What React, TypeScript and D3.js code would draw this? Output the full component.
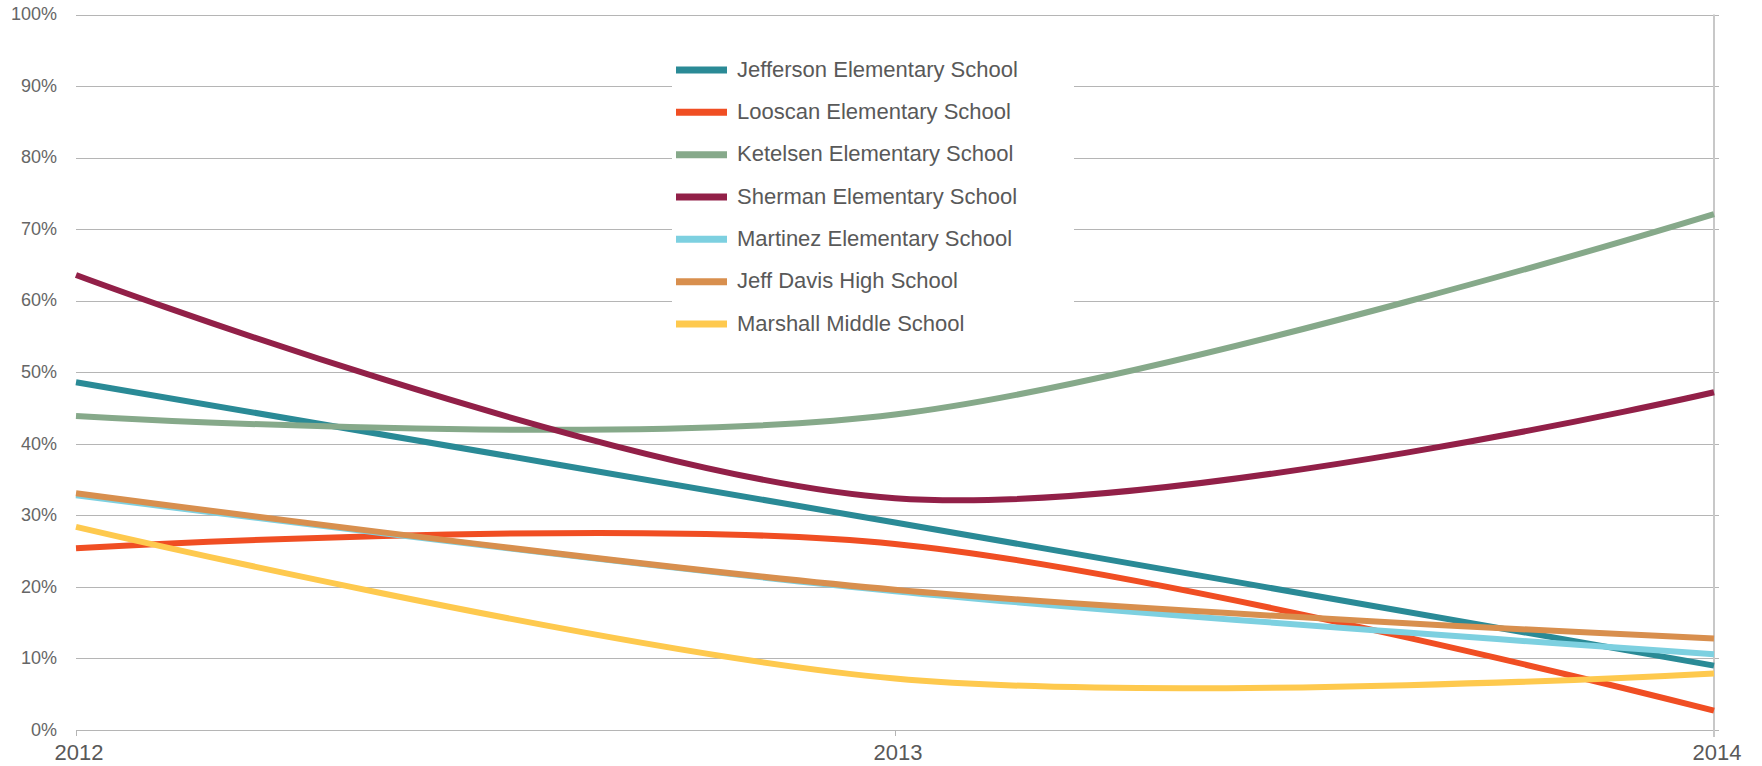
import React from "react";
import * as d3 from "d3";

const years = [2012, 2013, 2014];
const schools = [
  "Jefferson Elementary School",
  "Looscan Elementary School",
  "Ketelsen Elementary School",
  "Sherman Elementary School",
  "Martinez Elementary School",
  "Jeff Davis High School",
  "Marshall Middle School",
];
const colors = ["#2a8a96", "#f04e23", "#86a98a", "#922048", "#7dd0e0", "#d88f4e", "#fec94e"];
const jefferson = [48.6, 29.0, 9.0];
const looscan = [25.4, 26.0, 2.7];
const ketelsen = [43.9, 44.1, 72.1];
const sherman = [63.6, 32.4, 47.2];
const martinez = [32.8, 19.4, 10.6];
const jeffDavis = [33.1, 19.6, 12.8];
const marshall = [28.4, 7.2, 7.9];
const seriesValues = [jefferson, looscan, ketelsen, sherman, martinez, jeffDavis, marshall];
const yTicks = [0, 10, 20, 30, 40, 50, 60, 70, 80, 90, 100];

const W = 1762;
const H = 766;

export default function App() {
  const x = d3.scaleLinear().domain([2012, 2014]).range([76, 1714]);
  const y = d3.scaleLinear().domain([0, 100]).range([730, 14.5]);
  const line = d3
    .line<number>()
    .x((_, i) => x(years[i]))
    .y((d) => y(d))
    .curve(d3.curveCardinal.tension(0));

  const legendY = d3.scaleLinear().domain([0, 6]).range([70, 324]);

  return (
    <svg
      width={W}
      height={H}
      style={{ position: "absolute", left: 0, top: 0, background: "#fff" }}
      fontFamily="'Liberation Sans', Arial, sans-serif"
    >
      {yTicks.map((t) => (
        <g key={t}>
          <line x1={76} x2={1719} y1={Math.round(y(t)) + 0.5} y2={Math.round(y(t)) + 0.5} stroke="#b5b5b5" strokeWidth={1} />
          <text x={57} y={y(t) + 1} textAnchor="end" dominantBaseline="middle" fontSize={18} fill="#666">
            {t}%
          </text>
        </g>
      ))}
      <line x1={x(2014)} x2={x(2014)} y1={y(100)} y2={737} stroke="#c8c8c8" strokeWidth={2} />
      {years.slice(0, 2).map((yr) => (
        <line key={yr} x1={x(yr) + 0.5} x2={x(yr) + 0.5} y1={730} y2={736} stroke="#b5b5b5" strokeWidth={1} />
      ))}
      {years.map((yr) => (
        <text key={yr} x={x(yr) + 3} y={760} textAnchor="middle" fontSize={22} fill="#595959">
          {yr}
        </text>
      ))}
      <rect x={672} y={45} width={402} height={300} fill="#fff" />
      {seriesValues.map((vals, i) => (
        <path key={i} d={line(vals) || ""} fill="none" stroke={colors[i]} strokeWidth={6} strokeLinecap="butt" />
      ))}
      {schools.map((s, i) => (
        <g key={s}>
          <line x1={676} x2={727} y1={legendY(i)} y2={legendY(i)} stroke={colors[i]} strokeWidth={7} />
          <text x={737} y={legendY(i) + 1} dominantBaseline="middle" fontSize={22} fill="#595959">
            {s}
          </text>
        </g>
      ))}
    </svg>
  );
}
